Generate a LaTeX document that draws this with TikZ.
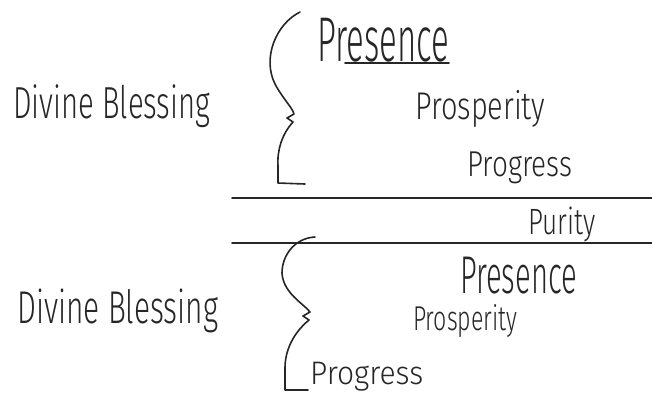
\documentclass[tikz,border=0pt]{standalone}
\usepackage{graphicx}
\usepackage{fontspec}
\setmainfont{Fira Sans Light}
\usetikzlibrary{positioning}

\definecolor{ink}{HTML}{262626}
\newcommand{\scrawl}[3]{\resizebox*{#1pt}{#2pt}{#3}}
\tikzset{
    word/.style={anchor=south west, inner sep=0pt, text=ink},
    pen/.style={draw=ink, line width=1.6pt, line cap=round, line join=round}
}

\begin{document}
\begin{tikzpicture}[x=1pt, y=-1pt]
    \useasboundingbox (0, 0) rectangle (652, 397);

    % upper group
    \node[word] (blessA) at (13, 128) {\scrawl{197}{43}{Divine Blessing}};
    \node[word] (presA) at (317, 62) {\scrawl{132}{44}{Presence}};
    \node[word] (prospA) at (415, 128) {\scrawl{130}{37}{Prosperity}};
    \node[word] (progA) at (467, 184) {\scrawl{105}{32}{Progress}};
    \draw[pen] (345, 63) -- (449, 63);

    \draw[pen] (300, 12) .. controls (276, 24) and (262, 58) .. (275, 84)
        .. controls (283, 99) and (292, 107) .. (294, 114)
        -- (287, 118) -- (293, 122)
        .. controls (282, 134) and (277, 150) .. (278, 166)
        -- (278, 183) -- (305, 184);

    % middle
    \draw[pen] (232, 198) -- (652, 198);
    \draw[pen] (232, 243) -- (652, 243);
    \node[word] (purity) at (528, 242) {\scrawl{67}{35}{Purity}};

    % lower group
    \node[word] (blessB) at (17, 333) {\scrawl{201}{44}{Divine Blessing}};
    \node[word] (presB) at (460, 294) {\scrawl{117}{37}{Presence}};
    \node[word] (prospB) at (413, 338) {\scrawl{104}{33}{Prosperity}};
    \node[word] (progB) at (310, 391) {\scrawl{113}{29}{Progress}};

    \draw[pen] (315, 237) .. controls (295, 238) and (282, 255) .. (282, 273)
        .. controls (283, 293) and (304, 304) .. (310, 312)
        -- (303, 316) -- (309, 320)
        .. controls (292, 334) and (285, 352) .. (285, 368)
        -- (285, 390) -- (308, 390);
\end{tikzpicture}
\end{document}
